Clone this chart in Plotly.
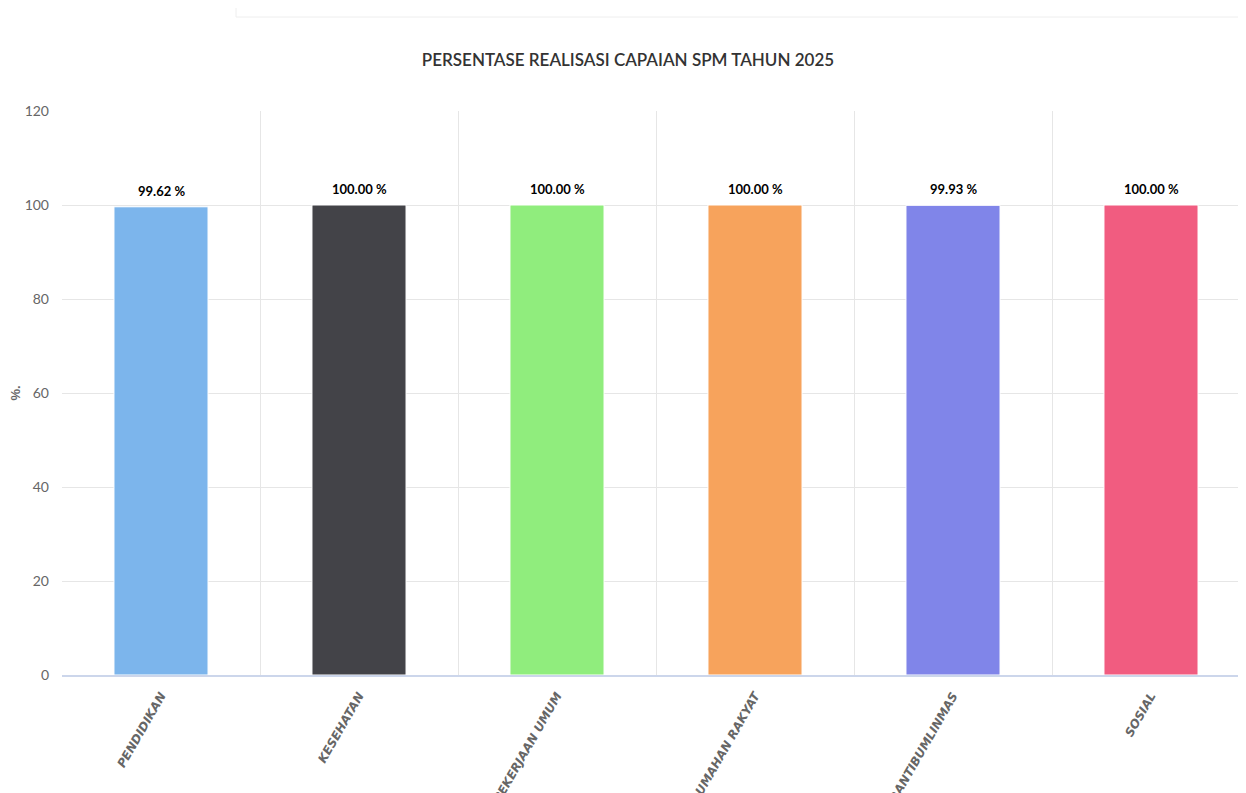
import plotly.graph_objects as go

categories = ["PENDIDIKAN", "KESEHATAN", "PEKERJAAN UMUM", "PERUMAHAN RAKYAT", "TRANTIBUMLINMAS", "SOSIAL"]
values = [99.62, 100.00, 100.00, 100.00, 99.93, 100.00]
colors = ["#7cb5ec", "#434348", "#90ed7d", "#f7a35c", "#8085e9", "#f15c80"]
y_ticks = [0, 20, 40, 60, 80, 100, 120]
title_text = "PERSENTASE REALISASI CAPAIAN SPM TAHUN 2025"
y_title = "%."

SANS = "Liberation Sans, Arial, sans-serif"
TITLE_FONT = "Lato, Liberation Sans, sans-serif"

# page body adds an 8px offset; margins compensate
OFF = 8
W, H = 1246, 793
ml, mr, mt, mb = 62 - OFF, 4, 111 - OFF, H - (675 - OFF)
plot_h = H - mt - mb
plot_w = W - ml - mr

fig = go.Figure()
fig.add_trace(go.Bar(
    x=categories, y=values,
    marker=dict(color=colors, line=dict(color="white", width=1)),
    width=0.475,
    hoverinfo="x+y",
    showlegend=False,
))

for c, v in zip(categories, values):
    fig.add_annotation(
        x=c, y=v, text="<b>%.2f %%</b>" % v, showarrow=False,
        yanchor="bottom", yshift=6,
        font=dict(family=TITLE_FONT, size=13, color="#000000"),
    )

# decorative container border at top of page
x0p = (236 - OFF - ml) / plot_w
y_line = (H - mb - (17 - OFF)) / plot_h
y_top = (H - mb + 10) / plot_h
fig.add_shape(type="line", xref="paper", yref="paper", x0=x0p, x1=1.01, y0=y_line, y1=y_line,
              line=dict(color="#eeeeee", width=1))
fig.add_shape(type="line", xref="paper", yref="paper", x0=x0p, x1=x0p, y0=y_line, y1=y_top,
              line=dict(color="#eeeeee", width=1))

fig.update_layout(
    width=W, height=H,
    margin=dict(l=ml, r=mr, t=mt, b=mb, autoexpand=False),
    paper_bgcolor="white", plot_bgcolor="white",
    title=dict(text=title_text, x=(628 - OFF) / W, xref="container", xanchor="center",
               y=1 - (60 - OFF) / H, yanchor="middle",
               font=dict(family=TITLE_FONT, size=17, color="#333333", weight=600)),
    bargap=0.525,
    xaxis=dict(
        type="category", range=[-0.5, 5.5],
        tickson="boundaries", showgrid=True, gridcolor="#e6e6e6", gridwidth=1,
        showline=True, linecolor="#ccd6eb", linewidth=2,
        ticks="", tickangle=-60, automargin=False, ticklabelstandoff=7,
        tickfont=dict(family="DejaVu Sans, sans-serif", size=12, color="#666666",
                      weight="bold", style="italic"),
    ),
    yaxis=dict(
        range=[0, 120], tickvals=y_ticks, showgrid=True, gridcolor="#e6e6e6",
        zeroline=False, showline=False, ticks="", automargin=False, ticklabelstandoff=12,
        tickfont=dict(family=TITLE_FONT, size=14, color="#666666"),
        title=dict(text="<b>" + y_title + "</b>", standoff=24,
                   font=dict(family=SANS, size=13, color="#666666")),
    ),
)

fig.write_html("out.html")
